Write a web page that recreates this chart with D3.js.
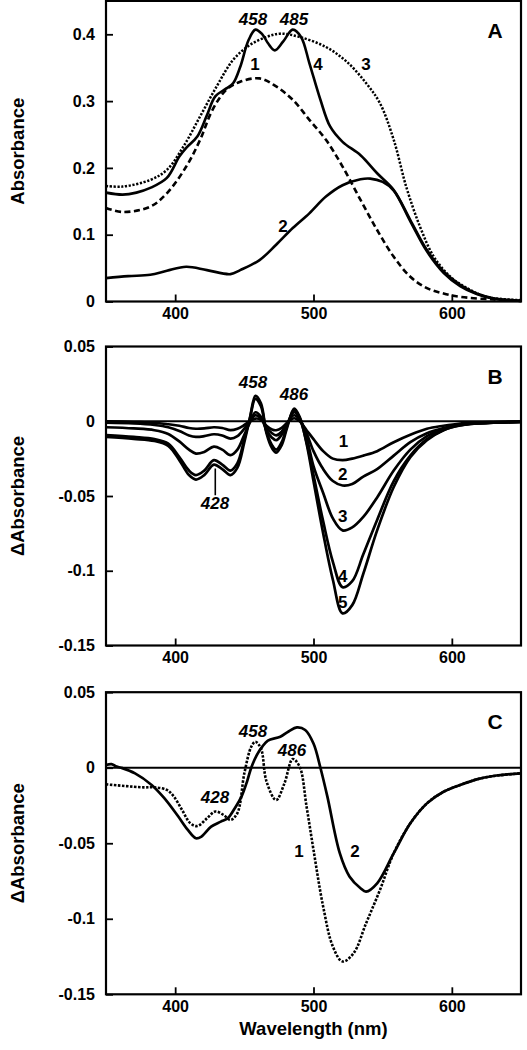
<!DOCTYPE html>
<html><head><meta charset="utf-8">
<script src="https://cdn.jsdelivr.net/npm/d3@7"></script>
<style>
body{margin:0;background:#fff}
svg{display:block}
text{font-family:"Liberation Sans",Arial,Helvetica,sans-serif;font-weight:bold;fill:#000}
</style>
</head><body>
<svg id="chart" width="527" height="1050"></svg>
<script>
// ---------- tick values / labels ----------
const xTicks = [400, 500, 600];
const xTickLabels = ["400", "500", "600"];
const yTicksA = [0, 0.1, 0.2, 0.3, 0.4];
const yTickLabelsA = ["0", "0.1", "0.2", "0.3", "0.4"];
const yTicksBC = [-0.15, -0.1, -0.05, 0, 0.05];
const yTickLabelsBC = ["-0.15", "-0.1", "-0.05", "0", "0.05"];

// ---------- Panel A ----------
const wlA1 = [350,362,382,394,408,418,427,437,447,461,473,485,497,509,521,534,546,558,570,582,594,606,630,650];
const absA1 = [0.140,0.134,0.142,0.162,0.202,0.242,0.287,0.317,0.329,0.334,0.322,0.302,0.272,0.242,0.202,0.152,0.107,0.067,0.037,0.020,0.012,0.007,0.003,0.001];

const wlA2 = [350,366,382,394,408,423,440,447,461,473,485,497,509,521,534,541,550,558,570,582,594,606,618,630,650];
const absA2 = [0.035,0.038,0.040,0.046,0.052,0.047,0.041,0.047,0.062,0.085,0.110,0.132,0.157,0.174,0.183,0.184,0.179,0.166,0.120,0.075,0.043,0.023,0.011,0.004,0.001];

const wlA3 = [350,362,382,394,406,418,430,442,454,466,476,490,509,524,538,548,558,567,577,587,599,611,625,650];
const absA3 = [0.173,0.172,0.182,0.197,0.232,0.277,0.322,0.362,0.384,0.396,0.401,0.396,0.381,0.359,0.327,0.297,0.242,0.172,0.112,0.067,0.037,0.020,0.007,0.002];

const wlA4 = [350,362,372,382,394,403,408,416,423,429,437,442,447,453,458,463,467,472,478,485,491,497,505,512,521,534,546,558,570,582,594,606,618,630,650];
const absA4 = [0.163,0.160,0.163,0.170,0.185,0.217,0.230,0.247,0.279,0.307,0.319,0.327,0.351,0.391,0.407,0.400,0.387,0.376,0.389,0.407,0.396,0.357,0.302,0.262,0.239,0.219,0.192,0.167,0.122,0.077,0.045,0.025,0.012,0.005,0.001];

// ---------- Panel B ----------
const wlB = [350,370,385,395,403,410,415,421,428,434,440,445,450,454,458,462,466,470,473,477,481,486,490,495,500,507,514,521,528,536,546,558,570,582,594,606,618,630,650];
const dB1 = [0,-0.0005,-0.001,-0.002,-0.003,-0.0045,-0.005,-0.0048,-0.004,-0.0045,-0.006,-0.005,-0.0025,0,0.0018,0.001,-0.003,-0.0055,-0.006,-0.0045,-0.001,0.002,0,-0.006,-0.012,-0.020,-0.025,-0.026,-0.025,-0.023,-0.020,-0.014,-0.009,-0.005,-0.003,-0.0015,-0.0008,-0.0005,-0.0002];
const dB2 = [-0.001,-0.0015,-0.0025,-0.004,-0.0065,-0.0095,-0.0105,-0.010,-0.0087,-0.0095,-0.0116,-0.010,-0.005,0,0.004,0.002,-0.004,-0.008,-0.0094,-0.007,-0.001,0.004,0.001,-0.008,-0.020,-0.032,-0.040,-0.043,-0.042,-0.037,-0.032,-0.023,-0.014,-0.008,-0.0045,-0.0022,-0.0012,-0.0007,-0.0003];
const dB3 = [-0.004,-0.0048,-0.006,-0.0085,-0.0135,-0.019,-0.0216,-0.0205,-0.017,-0.019,-0.0227,-0.019,-0.009,-0.001,0.006,0.003,-0.006,-0.011,-0.0127,-0.009,-0.002,0.006,0.002,-0.011,-0.030,-0.048,-0.065,-0.073,-0.071,-0.064,-0.051,-0.033,-0.019,-0.010,-0.005,-0.0025,-0.0014,-0.0009,-0.0004];
const dB4 = [-0.0092,-0.0105,-0.012,-0.015,-0.024,-0.033,-0.036,-0.033,-0.026,-0.029,-0.033,-0.028,-0.012,0.002,0.015,0.010,-0.007,-0.016,-0.019,-0.014,-0.003,0.0075,0.002,-0.014,-0.036,-0.067,-0.094,-0.111,-0.107,-0.089,-0.066,-0.040,-0.023,-0.012,-0.0058,-0.0028,-0.0015,-0.001,-0.0005];
const dB5 = [-0.0105,-0.0118,-0.0132,-0.0165,-0.026,-0.036,-0.039,-0.036,-0.029,-0.032,-0.036,-0.031,-0.014,0.002,0.017,0.012,-0.008,-0.018,-0.021,-0.016,-0.004,0.0085,0.003,-0.015,-0.040,-0.075,-0.106,-0.1285,-0.123,-0.102,-0.073,-0.044,-0.024,-0.0127,-0.006,-0.0027,-0.0015,-0.001,-0.0005];

// ---------- Panel C ----------
const wlC1 = [350,377,385,394,399,405,411,416,423,429,435,440,445,450,455,458,462,466,473,479,485,490,495,500,507,514,521,529,538,548,558,570,582,594,606,618,630,650];
const dC1 = [-0.011,-0.013,-0.013,-0.0147,-0.019,-0.028,-0.0368,-0.0386,-0.0335,-0.029,-0.0313,-0.0346,-0.030,-0.0037,0.0139,0.0172,0.0128,-0.009,-0.0214,-0.0103,0.0058,0.0007,-0.0258,-0.0544,-0.092,-0.1184,-0.1283,-0.1228,-0.103,-0.081,-0.0566,-0.0368,-0.0236,-0.0159,-0.0114,-0.0077,-0.0055,-0.0037];
const wlC2 = [350,354,357,361,371,383,392,402,409,415,419,426,433,438,443,448,452,455,459,463,467,476,482,488,494,500,505,510,519,526,534,538,546,558,570,582,594,606,618,630,650];
const dC2 = [0.0018,0.0024,0.001,0,-0.0037,-0.0114,-0.020,-0.032,-0.041,-0.0467,-0.0456,-0.039,-0.0357,-0.0335,-0.0270,-0.019,-0.009,0,0.0084,0.014,0.018,0.0205,0.024,0.0267,0.025,0.016,0,-0.019,-0.0566,-0.072,-0.0798,-0.082,-0.0765,-0.0566,-0.0368,-0.0236,-0.0159,-0.0114,-0.0077,-0.0055,-0.0037];

// ---------- drawing ----------
const svg = d3.select("#chart");
const x = d3.scaleLinear().domain([350, 650]).range([106, 521]);
const line = (xs, ys, yScale) => d3.line()
  .x((d, i) => x(xs[i])).y((d, i) => yScale(ys[i]))
  .curve(d3.curveCatmullRom.alpha(0.5))(xs);

function panel(opt) {
  const y = d3.scaleLinear().domain(opt.domain).range(opt.range);
  const g = svg.append("g");
  const xa = g.append("g").attr("transform", `translate(0,${opt.range[0]})`)
    .call(d3.axisBottom(x).tickValues(xTicks).tickFormat((d, i) => xTickLabels[i])
      .tickSizeInner(-7).tickSizeOuter(0).tickPadding(6));
  const ya = g.append("g").attr("transform", `translate(${x.range()[0]},0)`)
    .call(d3.axisLeft(y).tickValues(opt.yTicks).tickFormat((d, i) => opt.yLabels[i])
      .tickSizeInner(-7).tickSizeOuter(0).tickPadding(11));
  [xa, ya].forEach(a => {
    a.select(".domain").remove();
    a.selectAll("line").attr("stroke", "#000").attr("stroke-width", 1.8);
    a.selectAll("text").attr("font-size", 16).attr("font-family", '"Liberation Sans",Arial,sans-serif').attr("font-weight", "bold").attr("fill", "#000");
  });
  if (opt.zero) {
    g.append("line").attr("x1", x(350)).attr("x2", x(650))
      .attr("y1", y(0)).attr("y2", y(0)).attr("stroke", "#000").attr("stroke-width", 1.8);
  }
  opt.curves.forEach(c => {
    g.append("path").attr("d", line(c.xs, c.ys, y)).attr("fill", "none")
      .attr("stroke", "#000").attr("stroke-width", c.w)
      .attr("stroke-dasharray", c.dash || null)
      .attr("stroke-linejoin", "round");
  });
  g.append("rect").attr("x", x(350)).attr("y", opt.range[1])
    .attr("width", x(650) - x(350)).attr("height", opt.range[0] - opt.range[1])
    .attr("fill", "none").attr("stroke", "#000").attr("stroke-width", 2.2);
  g.append("text").attr("transform", `translate(24,${(opt.range[0] + opt.range[1]) / 2}) rotate(-90)`)
    .attr("text-anchor", "middle").attr("font-size", 18.5).text(opt.title);
  opt.notes.forEach(n => {
    g.append("text").attr("x", x(n.wl)).attr("y", y(n.v)).attr("text-anchor", "middle")
      .attr("font-size", n.size).attr("font-style", n.italic ? "italic" : "normal").text(n.t);
  });
  (opt.lines || []).forEach(l => {
    g.append("line").attr("x1", x(l.wl)).attr("x2", x(l.wl)).attr("y1", y(l.v1)).attr("y2", y(l.v2))
      .attr("stroke", "#000").attr("stroke-width", 1.6);
  });
}

panel({
  domain: [0, 0.45], range: [301.5, 0.9], yTicks: yTicksA, yLabels: yTickLabelsA, title: "Absorbance",
  curves: [
    {xs: wlA3, ys: absA3, w: 2.5, dash: "2.2,1.6"},
    {xs: wlA1, ys: absA1, w: 2.6, dash: "6,3.5"},
    {xs: wlA2, ys: absA2, w: 2.6},
    {xs: wlA4, ys: absA4, w: 2.6}
  ],
  notes: [
    {t: "458", wl: 456.3, v: 0.414, size: 17, italic: true},
    {t: "485", wl: 485.9, v: 0.414, size: 17, italic: true},
    {t: "1", wl: 457.7, v: 0.3466, size: 17},
    {t: "4", wl: 503.3, v: 0.3466, size: 17},
    {t: "3", wl: 538, v: 0.3466, size: 17},
    {t: "2", wl: 478, v: 0.104, size: 17},
    {t: "A", wl: 631.2, v: 0.394, size: 21}
  ]
});

panel({
  domain: [-0.15, 0.05], range: [645.5, 346.5], yTicks: yTicksBC, yLabels: yTickLabelsBC, title: "\u0394Absorbance", zero: true,
  curves: [
    {xs: wlB, ys: dB1, w: 2.7}, {xs: wlB, ys: dB2, w: 2.7}, {xs: wlB, ys: dB3, w: 2.7},
    {xs: wlB, ys: dB4, w: 2.7}, {xs: wlB, ys: dB5, w: 2.7}
  ],
  notes: [
    {t: "458", wl: 456.3, v: 0.0221, size: 17, italic: true},
    {t: "486", wl: 485.9, v: 0.0140, size: 17, italic: true},
    {t: "428", wl: 428.8, v: -0.0590, size: 17, italic: true},
    {t: "1", wl: 521.6, v: -0.0172, size: 17},
    {t: "2", wl: 521.1, v: -0.0394, size: 17},
    {t: "3", wl: 521.1, v: -0.0673, size: 17},
    {t: "4", wl: 521.1, v: -0.1074, size: 17},
    {t: "5", wl: 521.1, v: -0.1252, size: 17},
    {t: "B", wl: 631.2, v: 0.0252, size: 21}
  ],
  lines: [{wl: 429, v1: -0.0316, v2: -0.0495}]
});

panel({
  domain: [-0.15, 0.05], range: [994.3, 692.2], yTicks: yTicksBC, yLabels: yTickLabelsBC, title: "\u0394Absorbance", zero: true,
  curves: [
    {xs: wlC1, ys: dC1, w: 2.6, dash: "2.5,1.5"},
    {xs: wlC2, ys: dC2, w: 2.7}
  ],
  notes: [
    {t: "458", wl: 456.3, v: 0.0205, size: 17, italic: true},
    {t: "486", wl: 484.5, v: 0.0077, size: 17, italic: true},
    {t: "428", wl: 428.8, v: -0.0234, size: 17, italic: true},
    {t: "1", wl: 489.5, v: -0.0589, size: 17},
    {t: "2", wl: 530, v: -0.0589, size: 17},
    {t: "C", wl: 631.2, v: 0.0254, size: 21}
  ]
});

svg.append("text").attr("x", x(500)).attr("y", 1035).attr("text-anchor", "middle")
  .attr("font-size", 18.5).text("Wavelength (nm)");
</script>
</body></html>
